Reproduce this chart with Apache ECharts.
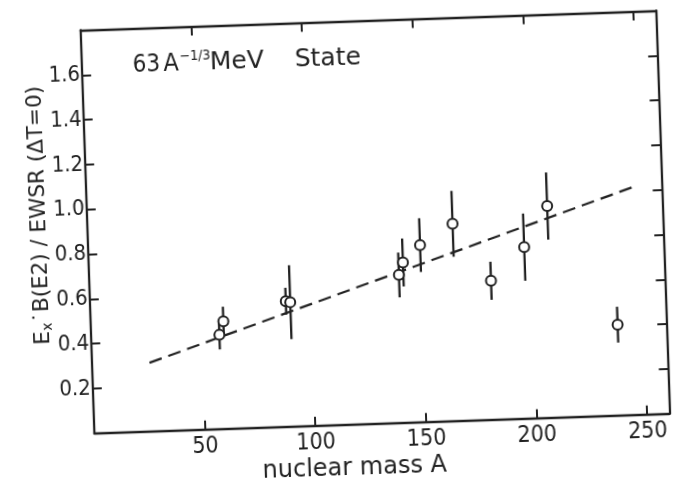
<!DOCTYPE html>
<html>
<head>
<meta charset="utf-8">
<script src="https://cdn.jsdelivr.net/npm/echarts@6/dist/echarts.min.js"></script>
<style>
html,body{margin:0;padding:0;background:#fff;overflow:hidden;}
#chart{width:685px;height:482px;transform:rotate(-1.95deg);transform-origin:50% 50%;}
</style>
</head>
<body>
<div id="chart"></div>
<script>
// Data
var massA   = [58, 60, 88.5, 90.5, 140, 142, 150, 165, 181.5, 197, 208, 238];
var ratio   = [0.42, 0.48, 0.56, 0.555, 0.66, 0.715, 0.79, 0.88, 0.62, 0.765, 0.945, 0.405];
var ratioErr= [0.065, 0.065, 0.06, 0.165, 0.10, 0.107, 0.12, 0.147, 0.085, 0.15, 0.15, 0.08];
var fitA    = [26, 246.5];
var fitY    = [0.306, 1.015];
var xTicks  = [50, 100, 150, 200, 250];
var yTicks  = [0.2, 0.4, 0.6, 0.8, 1.0, 1.2, 1.4, 1.6];

var INK = '#222';
var FONT = 'DejaVu Sans';
var CFONT = '"DejaVu Sans Condensed", "DejaVu Sans"';

var points = massA.map(function (a, i) { return [a, ratio[i], ratioErr[i]]; });
var fitLine = fitA.map(function (a, i) { return [a, fitY[i]]; });

var chart = echarts.init(document.getElementById('chart'), null, {renderer: 'canvas'});

function xLabel(v) { return xTicks.indexOf(v) >= 0 ? String(v) : ''; }
function yLabel(v) {
  for (var i = 0; i < yTicks.length; i++) { if (Math.abs(yTicks[i] - v) < 1e-6) return v.toFixed(1); }
  return '';
}

var axisCommonX = {
  type: 'value', min: 0, max: 260, interval: 50,
  axisLine: {show: true, onZero: false, lineStyle: {color: INK, width: 2.3}},
  axisTick: {show: true, inside: true, length: 9, lineStyle: {color: INK, width: 2}},
  splitLine: {show: false}
};
var axisCommonY = {
  type: 'value', min: 0, max: 1.8, interval: 0.2,
  axisLine: {show: true, onZero: false, lineStyle: {color: INK, width: 2.3}},
  axisTick: {show: true, inside: true, length: 9, lineStyle: {color: INK, width: 2}},
  splitLine: {show: false}
};

var option = {
  animation: false,
  backgroundColor: '#fff',
  grid: {left: 87.9, top: 21.5, right: 21.7, bottom: 57.3, containLabel: false},
  xAxis: [
    Object.assign({}, axisCommonX, {
      position: 'bottom',
      axisLabel: {show: true, formatter: xLabel, margin: 6, color: INK, fontFamily: 'DejaVu Sans Condensed', fontSize: 23}
    }),
    Object.assign({}, axisCommonX, {position: 'top', axisLabel: {show: false}})
  ],
  yAxis: [
    Object.assign({}, axisCommonY, {
      position: 'left',
      axisLabel: {show: true, formatter: yLabel, margin: 2, color: INK, fontFamily: 'DejaVu Sans Condensed', fontSize: 22}
    }),
    Object.assign({}, axisCommonY, {position: 'right', axisLabel: {show: false}})
  ],
  graphic: [
    {type: 'text', x: 138.8, y: 67 - 0.346 * 24, style: {text: '63', fill: INK, font: '24px ' + CFONT, textAlign: 'left', textVerticalAlign: 'middle'}},
    {type: 'text', x: 169.5, y: 67 - 0.346 * 25, style: {text: 'A', fill: INK, font: '25px ' + CFONT, textAlign: 'left', textVerticalAlign: 'middle'}},
    {type: 'text', x: 186, y: 56 - 0.346 * 14, style: {text: '\u22121/3', fill: INK, font: '14px ' + CFONT, textAlign: 'left', textVerticalAlign: 'middle'}},
    {type: 'text', x: 216, y: 67 - 0.346 * 25, style: {text: 'MeV', fill: INK, font: '25px "DejaVu Sans"', textAlign: 'left', textVerticalAlign: 'middle'}},
    {type: 'text', x: 300.9, y: 67 - 0.346 * 25, style: {text: 'State', fill: INK, font: '25px "DejaVu Sans"', textAlign: 'left', textVerticalAlign: 'middle'}},
    {type: 'text', x: 347, y: 477 - 0.346 * 24, style: {text: 'nuclear mass A', fill: INK, font: '24px "DejaVu Sans"', textAlign: 'center', textVerticalAlign: 'middle'}},
    {type: 'text', x: 40, y: 205, rotation: Math.PI / 2,
      style: {
        text: '{n|E}{sub|x}{dot|\u02D9}{n|B(E2) / EWSR (\u0394T=0)}',
        fill: INK, align: 'center', verticalAlign: 'middle',
        rich: {
          n: {fontFamily: FONT, fontSize: 21.5, color: INK, lineHeight: 25},
          sub: {fontFamily: FONT, fontSize: 14, color: INK, verticalAlign: 'bottom', lineHeight: 14},
          dot: {fontFamily: FONT, fontSize: 21.5, color: INK, lineHeight: 25}
        }
      }}
  ],
  series: [
    {
      type: 'line', xAxisIndex: 0, yAxisIndex: 0, data: fitLine, symbol: 'none', silent: true,
      lineStyle: {color: INK, width: 2.2, type: [13, 7]}, z: 2
    },
    {
      type: 'custom', xAxisIndex: 0, yAxisIndex: 0, data: points, z: 3,
      renderItem: function (params, api) {
        var x = api.value(0), y = api.value(1), e = api.value(2);
        var p1 = api.coord([x, y - e]);
        var p2 = api.coord([x, y + e]);
        return {type: 'line', shape: {x1: p1[0], y1: p1[1], x2: p2[0], y2: p2[1]},
          style: {stroke: INK, lineWidth: 2.3}};
      }
    },
    {
      type: 'scatter', xAxisIndex: 0, yAxisIndex: 0, data: points, symbol: 'circle', symbolSize: 10, z: 4,
      itemStyle: {color: '#fff', borderColor: INK, borderWidth: 2, opacity: 1}
    }
  ]
};
chart.setOption(option);
</script>
</body>
</html>
